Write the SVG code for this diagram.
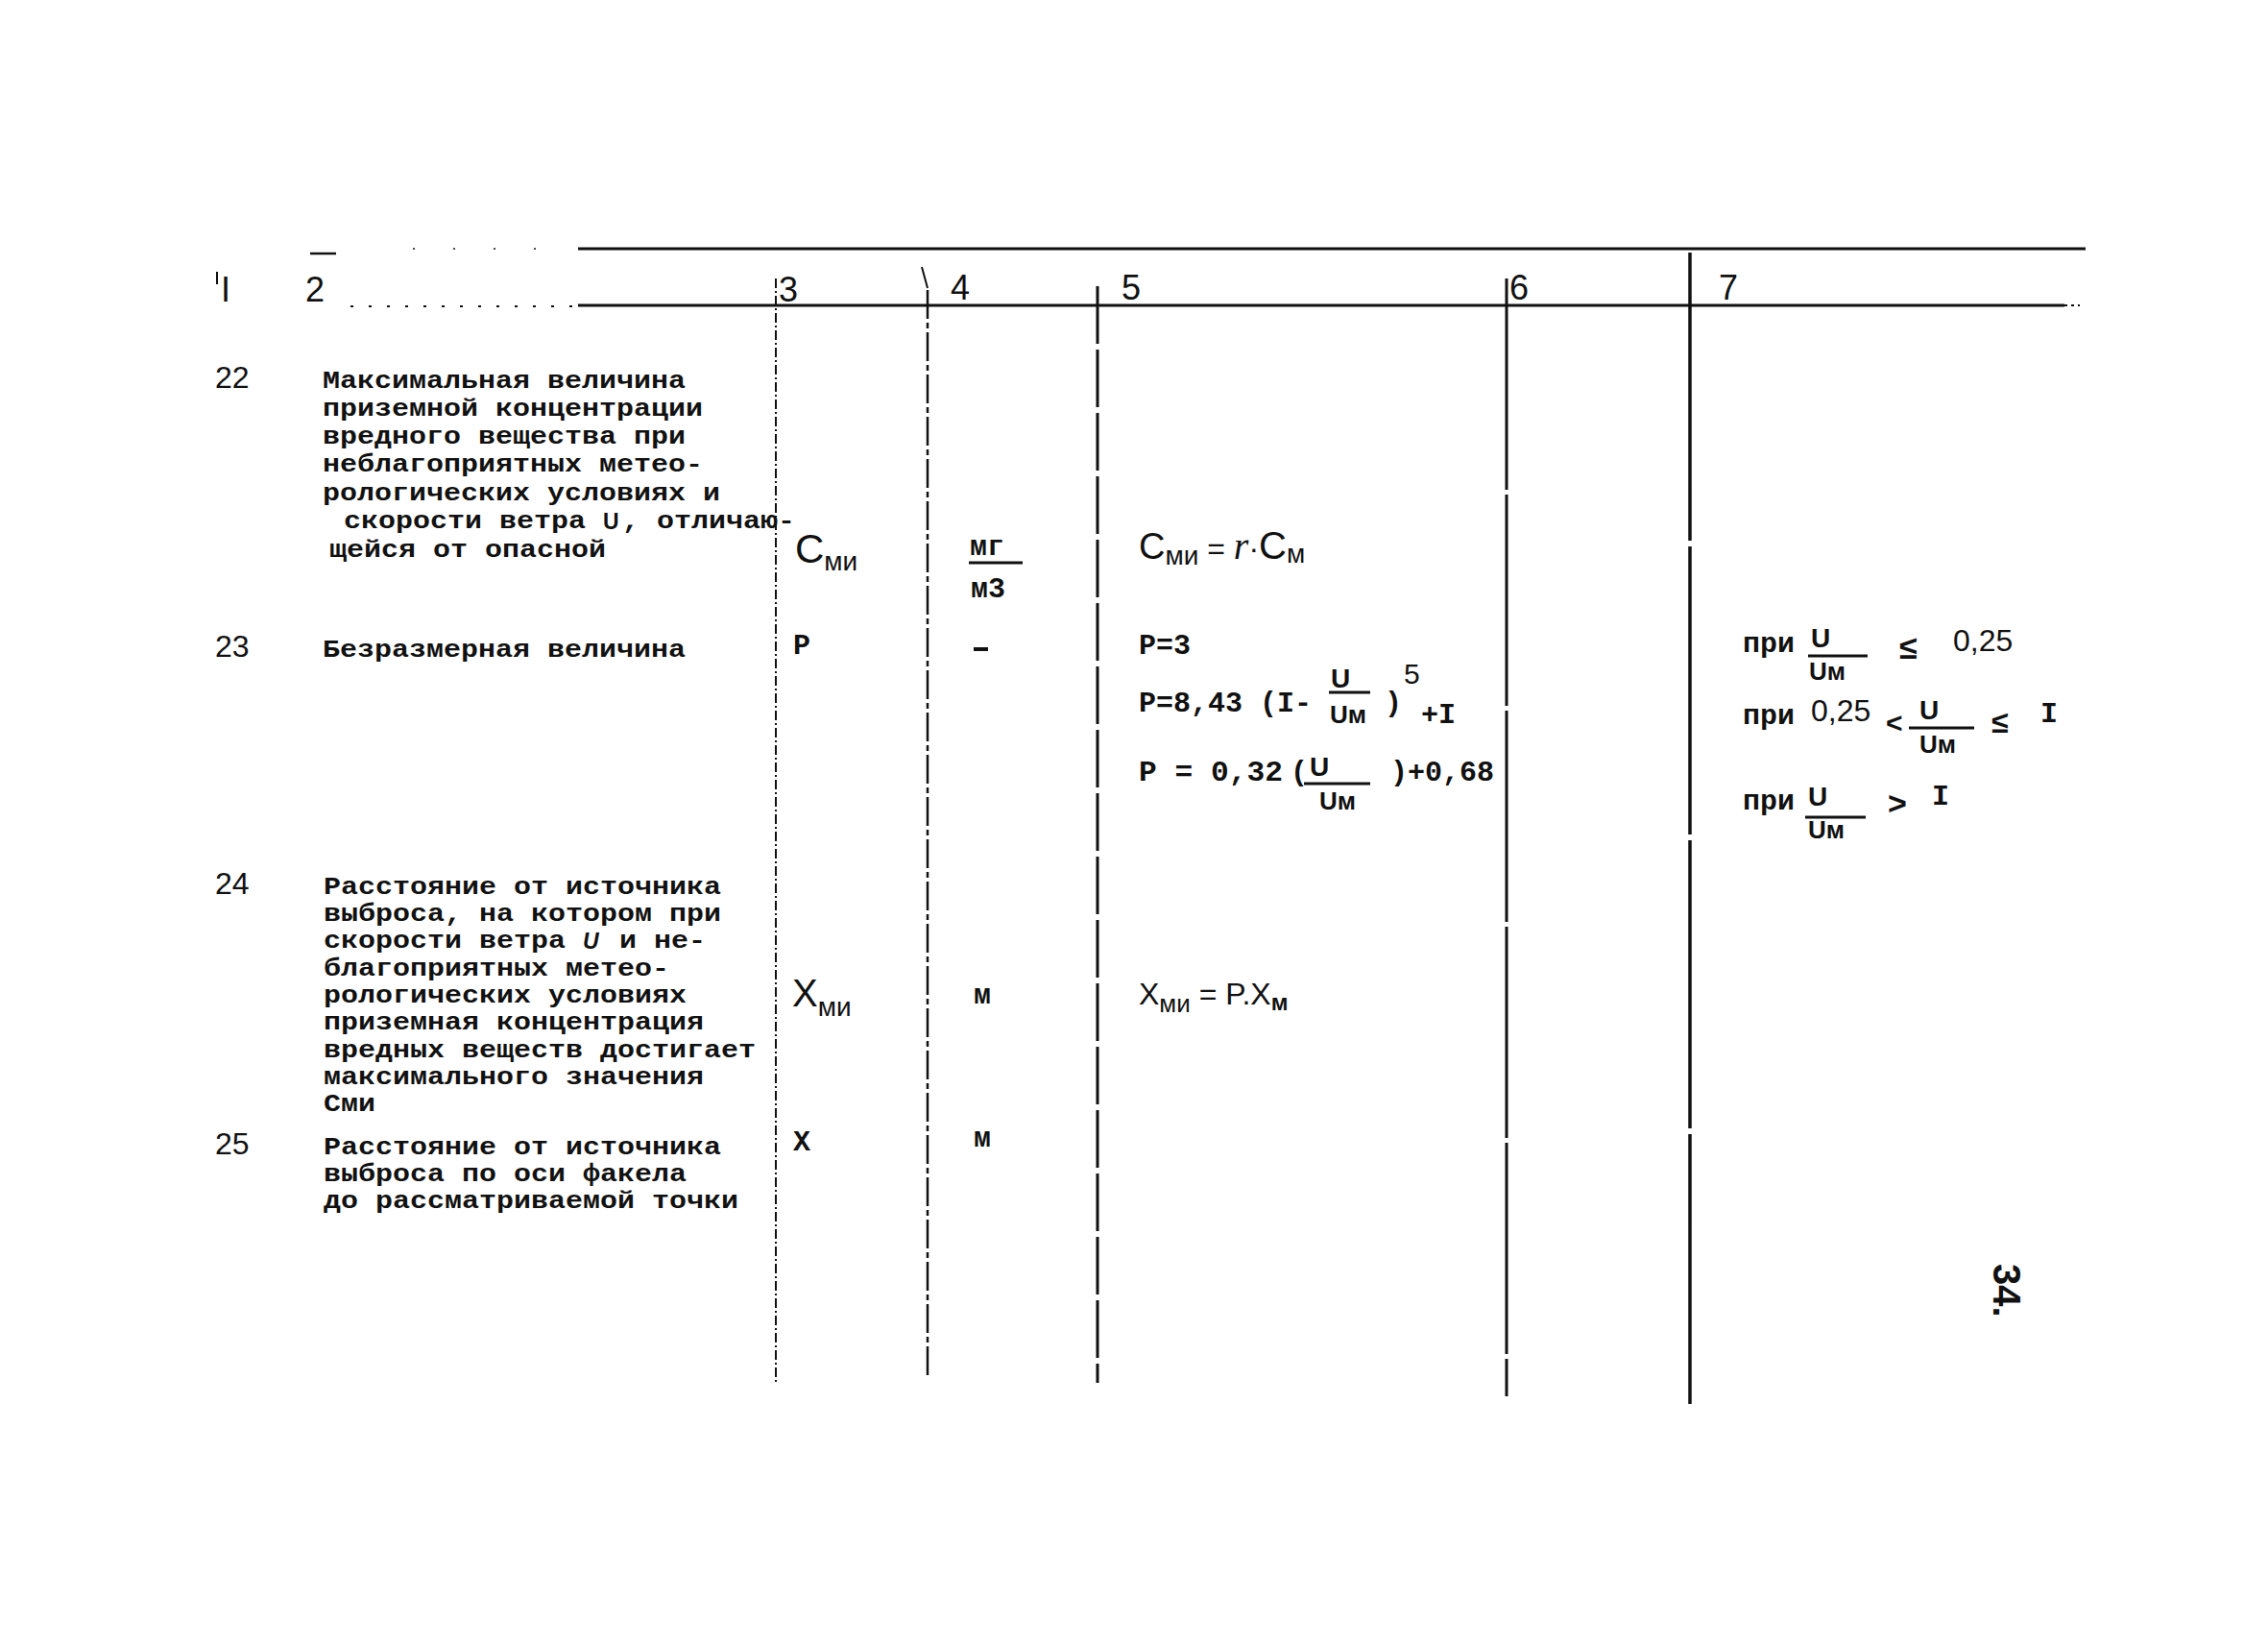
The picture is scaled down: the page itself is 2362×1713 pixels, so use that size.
<svg xmlns="http://www.w3.org/2000/svg" width="2362" height="1713" viewBox="0 0 2362 1713">
<style>
.tw{font-family:"Liberation Mono","DejaVu Sans Mono",monospace;font-size:30px;font-weight:bold;fill:#111}
.d{font-family:"Liberation Mono","DejaVu Sans Mono",monospace;font-size:25px;font-weight:bold;fill:#111}
.sn{font-family:"Liberation Sans","DejaVu Sans",sans-serif;fill:#111}
.num{font-family:"Liberation Sans",sans-serif;font-size:32px;fill:#111}
.hd{font-family:"Liberation Sans",sans-serif;font-size:36px;fill:#111}
.ln{stroke:#111;fill:none}
</style>
<rect width="2362" height="1713" fill="#fff"/>
<g id="connectors">
<line class="ln" x1="602" y1="259" x2="2172" y2="259" stroke-width="3"/>
<line class="ln" x1="430" y1="259" x2="598" y2="259" stroke-width="1.5" stroke-dasharray="2 40"/>
<line class="ln" x1="323" y1="264" x2="350" y2="264" stroke-width="2.5"/>
<line class="ln" x1="602" y1="318" x2="2150" y2="318" stroke-width="3"/>
<line class="ln" x1="365" y1="319" x2="598" y2="319" stroke-width="2" stroke-dasharray="3 16"/>
<line class="ln" x1="2150" y1="318" x2="2166" y2="318" stroke-width="2" stroke-dasharray="3 4"/>
<line class="ln" x1="808" y1="290" x2="808" y2="1440" stroke-width="2" stroke-dasharray="10 3 2 3"/>
<line class="ln" x1="960" y1="278" x2="966" y2="300" stroke-width="2"/>
<line class="ln" x1="966" y1="302" x2="966" y2="1432" stroke-width="2.5" stroke-dasharray="30 4 6 4"/>
<line class="ln" x1="1143" y1="298" x2="1143" y2="1440" stroke-width="3" stroke-dasharray="60 6"/>
<line class="ln" x1="1569" y1="290" x2="1569" y2="1454" stroke-width="3" stroke-dasharray="220 5"/>
<line class="ln" x1="1760" y1="263" x2="1760" y2="1462" stroke-width="3.5" stroke-dasharray="300 6"/>
</g>
<g id="header">
<text class="hd" x="230" y="314">I</text>
<line class="ln" x1="226" y1="283" x2="226" y2="296" stroke-width="2"/>
<text class="hd" x="318" y="314">2</text>
<text class="hd" x="811" y="314">3</text>
<text class="hd" x="990" y="312">4</text>
<text class="hd" x="1168" y="312">5</text>
<text class="hd" x="1572" y="312">6</text>
<text class="hd" x="1790" y="312">7</text>
</g>
<g id="row22">
<text class="num" x="224" y="404">22</text>
<text class="d" x="336" y="404" textLength="378" lengthAdjust="spacingAndGlyphs">Максимальная величина</text>
<text class="d" x="336" y="433" textLength="396" lengthAdjust="spacingAndGlyphs">приземной концентрации</text>
<text class="d" x="336" y="462" textLength="378" lengthAdjust="spacingAndGlyphs">вредного вещества при</text>
<text class="d" x="336" y="491" textLength="396" lengthAdjust="spacingAndGlyphs">неблагоприятных метео-</text>
<text class="d" x="336" y="521" textLength="414" lengthAdjust="spacingAndGlyphs">рологических условиях и</text>
<text class="d" x="358" y="550" textLength="252" lengthAdjust="spacingAndGlyphs">скорости ветра</text>
<text class="sn" x="628" y="551" font-size="23" font-weight="bold">U</text>
<text class="d" x="648" y="550" textLength="180" lengthAdjust="spacingAndGlyphs">, отличаю-</text>
<text class="d" x="343" y="580" textLength="288" lengthAdjust="spacingAndGlyphs">щейся от опасной</text>
<text class="sn" x="828" y="586" font-size="42">C<tspan font-size="28" dy="8">ми</tspan></text>
<text class="tw" x="1010" y="578" font-size="26">мг</text>
<line class="ln" x1="1009" y1="586" x2="1065" y2="586" stroke-width="3"/>
<text class="tw" x="1011" y="622" font-size="26">м3</text>
<text class="sn" x="1186" y="582" font-size="38">C<tspan font-size="28" dy="6">ми</tspan><tspan dy="-6" font-size="32"> = </tspan><tspan font-style="italic" font-family="Liberation Serif" font-size="40">r</tspan><tspan font-size="32">·</tspan><tspan font-size="40">C</tspan><tspan font-size="28" dy="4">м</tspan></text>
</g>
<g id="row23">
<text class="num" x="224" y="684">23</text>
<text class="d" x="336" y="684" textLength="378" lengthAdjust="spacingAndGlyphs">Безразмерная величина</text>
<text class="tw" x="826" y="681">P</text>
<line class="ln" x1="1014" y1="676" x2="1029" y2="676" stroke-width="4"/>
<text class="tw" x="1186" y="681">P=3</text>
<text class="tw" x="1186" y="741">P=8,43 (I-</text>
<text class="sn" x="1386" y="716" font-size="28" font-weight="bold">U</text>
<line class="ln" x1="1384" y1="721" x2="1427" y2="721" stroke-width="3"/>
<text class="sn" x="1385" y="753" font-size="26" font-weight="bold">Uм</text>
<text class="tw" x="1442" y="741">)</text>
<text class="sn" x="1462" y="712" font-size="30">5</text>
<text class="tw" x="1480" y="753">+I</text>
<text class="tw" x="1186" y="813" textLength="150" lengthAdjust="spacingAndGlyphs">P = 0,32</text>
<text class="tw" x="1344" y="813">(</text>
<text class="sn" x="1364" y="808" font-size="28" font-weight="bold">U</text>
<line class="ln" x1="1358" y1="816" x2="1427" y2="816" stroke-width="3"/>
<text class="sn" x="1374" y="843" font-size="26" font-weight="bold">Uм</text>
<text class="tw" x="1448" y="813">)+0,68</text>
<text class="tw" x="1815" y="679">при</text>
<text class="sn" x="1886" y="674" font-size="28" font-weight="bold">U</text>
<line class="ln" x1="1883" y1="683" x2="1945" y2="683" stroke-width="3"/>
<text class="sn" x="1884" y="708" font-size="26" font-weight="bold">Uм</text>
<text class="sn" x="1978" y="686" font-size="34" font-weight="bold">≤</text>
<text class="sn" x="2034" y="678" font-size="32">0,25</text>
<text class="tw" x="1815" y="754">при</text>
<text class="sn" x="1886" y="751" font-size="32">0,25</text>
<text class="sn" x="1964" y="763" font-size="30" font-weight="bold">&lt;</text>
<text class="sn" x="1999" y="749" font-size="28" font-weight="bold">U</text>
<line class="ln" x1="1988" y1="758" x2="2056" y2="758" stroke-width="3"/>
<text class="sn" x="1999" y="784" font-size="26" font-weight="bold">Uм</text>
<text class="sn" x="2074" y="763" font-size="32" font-weight="bold">≤</text>
<text class="tw" x="2125" y="752">I</text>
<text class="tw" x="1815" y="843">при</text>
<text class="sn" x="1883" y="839" font-size="28" font-weight="bold">U</text>
<line class="ln" x1="1880" y1="851" x2="1943" y2="851" stroke-width="3"/>
<text class="sn" x="1883" y="873" font-size="26" font-weight="bold">Uм</text>
<text class="sn" x="1966" y="848" font-size="34" font-weight="bold">&gt;</text>
<text class="tw" x="2012" y="838">I</text>
</g>
<g id="row24">
<text class="num" x="224" y="931">24</text>
<text class="d" x="337" y="931" textLength="414" lengthAdjust="spacingAndGlyphs">Расстояние от источника</text>
<text class="d" x="337" y="959" textLength="414" lengthAdjust="spacingAndGlyphs">выброса, на котором при</text>
<text class="d" x="337" y="987" textLength="252" lengthAdjust="spacingAndGlyphs">скорости ветра</text>
<text class="sn" x="607" y="988" font-size="23" font-style="italic" font-weight="bold">U</text>
<text class="d" x="645" y="987" textLength="90" lengthAdjust="spacingAndGlyphs">и не-</text>
<text class="d" x="337" y="1016" textLength="360" lengthAdjust="spacingAndGlyphs">благоприятных метео-</text>
<text class="d" x="337" y="1044" textLength="378" lengthAdjust="spacingAndGlyphs">рологических условиях</text>
<text class="d" x="337" y="1072" textLength="396" lengthAdjust="spacingAndGlyphs">приземная концентрация</text>
<text class="d" x="337" y="1101" textLength="450" lengthAdjust="spacingAndGlyphs">вредных веществ достигает</text>
<text class="d" x="337" y="1129" textLength="396" lengthAdjust="spacingAndGlyphs">максимального значения</text>
<text class="d" x="337" y="1157" textLength="54" lengthAdjust="spacingAndGlyphs">Cми</text>
<text class="sn" x="825" y="1048" font-size="40">X<tspan font-size="28" dy="10">ми</tspan></text>
<text class="tw" x="1014" y="1045" font-size="26">м</text>
<text class="sn" x="1186" y="1046" font-size="32">X<tspan font-size="26" dy="8">ми</tspan><tspan dy="-8"> = P.X</tspan><tspan font-size="24" dy="6" font-weight="bold">м</tspan></text>
</g>
<g id="row25">
<text class="num" x="224" y="1202">25</text>
<text class="d" x="337" y="1202" textLength="414" lengthAdjust="spacingAndGlyphs">Расстояние от источника</text>
<text class="d" x="337" y="1230" textLength="378" lengthAdjust="spacingAndGlyphs">выброса по оси факела</text>
<text class="d" x="337" y="1258" textLength="432" lengthAdjust="spacingAndGlyphs">до рассматриваемой точки</text>
<text class="tw" x="826" y="1198">X</text>
<text class="tw" x="1014" y="1194" font-size="26">м</text>
</g>
<g id="page-number">
<text class="sn" font-size="40" font-weight="bold" transform="translate(2076,1316) rotate(90)">34.</text>
</g>
</svg>
